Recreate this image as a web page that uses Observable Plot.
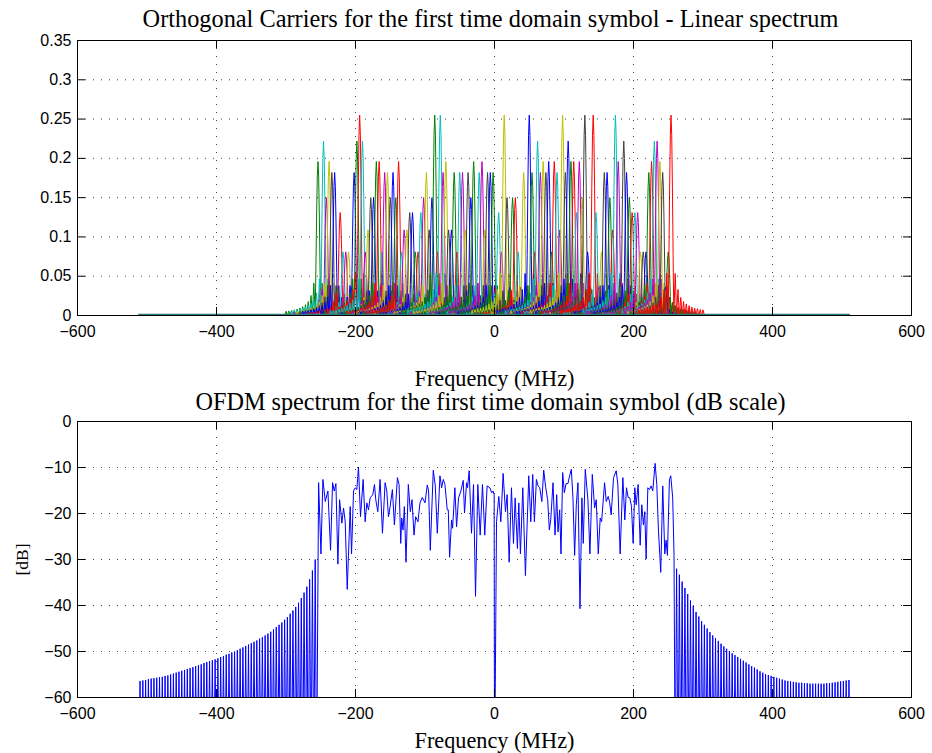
<!DOCTYPE html>
<html>
<head>
<meta charset="utf-8">
<script src="https://cdn.jsdelivr.net/npm/d3@7"></script>
<script src="https://cdn.jsdelivr.net/npm/@observablehq/plot@0.6"></script>
<style>
  html, body { margin: 0; padding: 0; background: #fff; }
  #wrap { position: relative; width: 932px; height: 753px; background: #fff; }
  #wrap svg { position: absolute; left: 0; top: 0; }
</style>
</head>
<body>
<div id="wrap"></div>
<script>
// ---------------- DATA ----------------
const topTitle = "Orthogonal Carriers for the first time domain symbol - Linear spectrum";
const bottomTitle = "OFDM spectrum for the first time domain symbol (dB scale)";
const xLabelText = "Frequency (MHz)";
const yLabelBottom = "[dB]";

const xTicks = [-600, -400, -200, 0, 200, 400, 600];
const topYTicks = [0, 0.05, 0.1, 0.15, 0.2, 0.25, 0.3, 0.35];
const bottomYTicks = [-60, -50, -40, -30, -20, -10, 0];

// MATLAB default line colour order
const colorOrder = ["#0000ff", "#008000", "#ff0000", "#00bfbf", "#bf00bf", "#bfbf00", "#404040"];
const colorOffset = 1; // first carrier drawn in green

// sub-carriers: 4 MHz spacing, centres -254 ... 254 MHz
const carrierSpacing = 4;
const carrierFreq = d3.range(-254, 255, carrierSpacing);
const carrierAmp = [
  0.196, 0.036, 0.222, 0.150, 0.196, 0.182, 0.182, 0.036, 0.131, 0.081,
  0.081, 0.081, 0.036, 0.182, 0.222, 0.255, 0.222, 0.081, 0.109, 0.150,
  0.150, 0.196, 0.196, 0.081, 0.182, 0.182, 0.150, 0.182, 0.150, 0.196,
  0.081, 0.109, 0.109, 0.131, 0.131, 0.081, 0.081, 0.131, 0.150, 0.182,
  0.109, 0.150, 0.255, 0.081, 0.255, 0.182, 0.196, 0.109, 0.109, 0.182,
  0.081, 0.182, 0.182, 0.109, 0.182, 0.150, 0.196, 0.036, 0.182, 0.196,
  0.109, 0.182, 0.182, 0.182, 0.036, 0.131, 0.081, 0.255, 0.150, 0.036,
  0.150, 0.150, 0.081, 0.036, 0.182, 0.036, 0.255, 0.182, 0.081, 0.222,
  0.182, 0.196, 0.182, 0.196, 0.081, 0.196, 0.182, 0.109, 0.255, 0.182,
  0.222, 0.196, 0.196, 0.131, 0.196, 0.150, 0.255, 0.081, 0.036, 0.255,
  0.131, 0.036, 0.081, 0.182, 0.182, 0.150, 0.109, 0.255, 0.196, 0.036,
  0.222, 0.182, 0.150, 0.131, 0.131, 0.131, 0.081, 0.081, 0.081, 0.182,
  0.196, 0.222, 0.222, 0.196, 0.182, 0.036, 0.081, 0.255
];

// relative magnitude of one carrier vs. offset (in carrier spacings), one side
const shapeOffset = [0, 0.25, 0.5, 0.75, 1, 1.5, 2, 2.5, 3, 3.5, 4, 4.5, 5, 5.5, 6, 6.5, 7, 7.5, 8, 8.5, 9, 9.5, 10, 10.5, 11, 11.5, 12];
const shapeGain   = [1, 0.90, 0.64, 0.30, 0, 0.21, 0, 0.13, 0, 0.09, 0, 0.07, 0, 0.058, 0, 0.049, 0, 0.042, 0, 0.037, 0, 0.034, 0, 0.030, 0, 0.028, 0];

const freqRange = [-512, 512];

// dB spectrum: in-band curve [MHz, dB]
const inbandCurve = [
  [-253.1,-13.3],[-249.7,-28.8],[-246.9,-12.6],[-243.5,-17.4],[-239.7,-15.1],[-235.9,-28.0],
  [-233.0,-13.3],[-230.6,-15.1],[-228.2,-13.5],[-225.3,-31.0],[-222.9,-17.0],[-219.6,-22.1],
  [-217.2,-18.8],[-214.8,-21.8],[-211.9,-36.5],[-207.6,-18.5],[-205.7,-28.8],[-202.8,-15.1],
  [-200.4,-14.4],[-198.1,-14.8],[-195.7,-9.9],[-192.8,-20.7],[-189.0,-12.6],[-186.1,-21.8],
  [-183.7,-17.7],[-181.3,-19.2],[-178.9,-16.6],[-175.1,-15.9],[-172.7,-13.7],[-170.8,-17.0],
  [-167.9,-19.6],[-164.6,-12.6],[-161.2,-24.3],[-157.4,-13.3],[-155.0,-15.1],[-152.6,-20.7],
  [-150.2,-18.5],[-146.9,-14.8],[-144.0,-22.5],[-139.7,-12.2],[-137.3,-13.7],[-134.9,-26.5],
  [-133.5,-21.0],[-131.6,-23.6],[-129.7,-18.5],[-127.3,-30.6],[-124.0,-13.7],[-121.1,-19.6],
  [-118.7,-17.0],[-115.8,-24.7],[-113.4,-20.7],[-110.1,-21.8],[-107.2,-17.7],[-103.9,-16.5],
  [-100.0,-17.7],[-96.7,-13.8],[-94.8,-15.1],[-92.4,-28.0],[-88.1,-10.6],[-85.2,-14.0],
  [-82.3,-24.3],[-78.5,-11.8],[-76.1,-14.4],[-73.7,-12.6],[-71.3,-13.7],[-68.0,-19.2],
  [-66.5,-19.2],[-64.6,-29.5],[-61.8,-21.4],[-60.3,-23.2],[-57.0,-14.4],[-54.6,-22.9],
  [-51.7,-16.6],[-48.4,-15.1],[-45.0,-12.8],[-43.1,-19.9],[-40.2,-13.3],[-38.8,-14.4],
  [-36.4,-10.7],[-33.1,-24.3],[-30.2,-13.7],[-27.3,-38.0],[-24.0,-13.7],[-20.6,-24.7],
  [-17.3,-13.7],[-14.0,-24.7],[-10.6,-14.0],[-6.7,-14.4],[-3.9,-15.5],[-2.0,-15.1],
  [-0.5,-15.9],[0.0,-80],[2.9,-21.8],[6.2,-16.3],[9.1,-21.8],[12.4,-11.3],[15.8,-19.6],
  [18.2,-15.9],[21.1,-30.6],[24.4,-14.4],[27.3,-26.5],[29.7,-16.6],[33.0,-27.6],[35.0,-17.7],
  [37.3,-28.8],[40.7,-14.4],[44.5,-33.5],[49.3,-11.8],[52.2,-21.8],[55.0,-11.5],[57.4,-21.8],
  [60.3,-12.6],[62.7,-14.0],[65.1,-14.4],[68.1,-17.4],[70.8,-10.6],[73.7,-14.4],[76.5,-17.0],
  [78.9,-23.6],[80.9,-21.4],[84.2,-13.3],[87.1,-24.7],[89.5,-15.9],[91.4,-24.0],[93.8,-19.2],
  [95.7,-28.8],[98.1,-11.1],[100.5,-15.5],[102.9,-13.5],[105.7,-13.5],[108.1,-11.8],[110.5,-10.4],
  [112.9,-16.6],[115.3,-29.1],[117.7,-18.1],[120.1,-13.3],[123.0,-40.7],[125.8,-16.6],[127.7,-26.5],
  [130.6,-10.4],[134.4,-17.0],[137.3,-28.8],[140.7,-11.5],[144.0,-18.8],[146.4,-17.0],[149.3,-28.8],
  [152.1,-21.0],[154.1,-21.8],[158.4,-13.3],[160.8,-17.4],[163.6,-16.3],[165.5,-17.4],[167.9,-20.3],
  [171.3,-12.2],[175.1,-10.7],[177.5,-13.7],[180.8,-28.8],[184.7,-12.2],[187.5,-21.4],[189.9,-14.4],
  [192.3,-16.5],[194.7,-16.6],[197.1,-18.5],[199.5,-26.5],[201.9,-14.4],[203.8,-18.1],[206.7,-13.7],
  [209.6,-26.9],[211.9,-18.1],[214.3,-22.5],[216.2,-19.6],[218.2,-29.9],[220.6,-14.4],[223.0,-14.8],
  [225.3,-14.0],[227.7,-15.1],[231.1,-9.1],[233.5,-13.7],[235.9,-23.6],[239.2,-32.8],[242.1,-14.0],
  [245.0,-28.8],[246.9,-25.8],[248.8,-29.1],[251.7,-12.6],[253.6,-11.8],[256.4,-16.6],[258.3,-29.1]
];

// out-of-band sidelobe peaks, one per 4 MHz
const leftLobeFreq = d3.range(-510, -257, 4);
const leftLobeDb = [
  -56.4,-56.3,-56.2,-56.0,-55.9,-55.8,-55.7,-55.6,-55.5,-55.3,-55.2,-55.0,-54.8,-54.6,-54.4,-54.2,
  -54.0,-53.8,-53.6,-53.4,-53.2,-53.0,-52.8,-52.5,-52.3,-52.1,-51.9,-51.7,-51.5,-51.2,-51.0,-50.7,
  -50.5,-50.2,-50.0,-49.7,-49.4,-49.1,-48.8,-48.5,-48.2,-47.9,-47.6,-47.2,-46.9,-46.5,-46.1,-45.7,
  -45.2,-44.7,-44.2,-43.7,-43.1,-42.5,-41.8,-41.1,-40.3,-39.4,-38.4,-37.2,-35.9,-34.3,-32.4,-30.0
];
const rightLobeFreq = d3.range(262, 511, 4);
const rightLobeDb = [
  -32.0,-33.3,-34.8,-36.2,-37.5,-38.9,-40.1,-41.4,-42.4,-43.4,-44.2,-45.0,-45.8,-46.5,-47.1,-47.7,
  -48.3,-48.9,-49.4,-49.9,-50.4,-50.8,-51.2,-51.6,-52.0,-52.4,-52.8,-53.2,-53.5,-53.9,-54.3,-54.6,
  -54.9,-55.1,-55.3,-55.5,-55.7,-55.9,-56.1,-56.3,-56.4,-56.5,-56.6,-56.7,-56.8,-56.8,-56.9,-56.9,
  -57.0,-57.0,-57.0,-57.0,-57.0,-57.0,-56.9,-56.9,-56.8,-56.7,-56.6,-56.5,-56.4,-56.3,-56.2
];
const nullDb = -80; // nulls between sidelobes fall far below the axis

// ---------------- BUILD TABLES ----------------
const carrierRows = [];
carrierFreq.forEach((fc, k) => {
  const color = colorOrder[(k + colorOffset) % colorOrder.length];
  for (let i = shapeOffset.length - 1; i >= 1; --i)
    carrierRows.push({k, color, f: fc - shapeOffset[i] * carrierSpacing, a: carrierAmp[k] * shapeGain[i]});
  for (let i = 0; i < shapeOffset.length; ++i)
    carrierRows.push({k, color, f: fc + shapeOffset[i] * carrierSpacing, a: carrierAmp[k] * shapeGain[i]});
});

const spectrumRows = [{f: freqRange[0], db: nullDb}];
leftLobeFreq.forEach((f, i) => {
  spectrumRows.push({f, db: leftLobeDb[i]});
  spectrumRows.push({f: f + carrierSpacing / 2, db: nullDb});
});
inbandCurve.forEach(([f, db]) => spectrumRows.push({f, db}));
rightLobeFreq.forEach((f, i) => {
  spectrumRows.push({f: f - carrierSpacing / 2, db: nullDb});
  spectrumRows.push({f, db: rightLobeDb[i]});
});
spectrumRows.push({f: freqRange[1], db: nullDb});

// ---------------- STYLE HELPERS ----------------
const serif = "'Liberation Serif', 'DejaVu Serif', serif";
const sans = "'Liberation Sans', Arial, sans-serif";
const ctx = document.createElement("canvas").getContext("2d");
function fitSize(text, family, target) {
  ctx.font = `100px ${family}`;
  return 100 * target / ctx.measureText(text).width;
}
const fmtX = d => d < 0 ? "\u2212" + Math.abs(d) : String(d);
const fmtTopY = d => String(+d.toFixed(2));
const fmtBotY = d => d < 0 ? "\u2212" + Math.abs(d) : String(d);

const W = 932, H = 753;
const mL = 77, mR = 21;
const frameW = W - mL - mR;
const tickLen = 8;
const gridStyle = {stroke: "#000", strokeOpacity: 0.75, strokeWidth: 1, strokeDasharray: "1,7"};
const txt = {fill: "#000", fontFamily: serif, textAnchor: "middle", lineAnchor: "middle"};

function axesMarks(yTicks, frameH, fmtY) {
  return [
    Plot.gridX({ticks: xTicks, ...gridStyle}),
    Plot.gridY({ticks: yTicks, ...gridStyle}),
    Plot.frame({stroke: "#000", strokeWidth: 1}),
    Plot.tickX(xTicks, {x: d => d, insetTop: frameH - tickLen, stroke: "#000"}),
    Plot.tickX(xTicks, {x: d => d, insetBottom: frameH - tickLen, stroke: "#000"}),
    Plot.tickY(yTicks, {y: d => d, insetRight: frameW - tickLen, stroke: "#000"}),
    Plot.tickY(yTicks, {y: d => d, insetLeft: frameW - tickLen, stroke: "#000"}),
    Plot.axisX({ticks: xTicks, tickSize: 0, tickPadding: 10, tickFormat: fmtX, label: null}),
    Plot.axisY({ticks: yTicks, tickSize: 0, tickPadding: 6, tickFormat: fmtY, label: null})
  ];
}

// ---------------- TOP CHART ----------------
const topMT = 40, topMB = H - 315;
const topPlot = Plot.plot({
  width: W, height: H,
  marginLeft: mL, marginRight: mR, marginTop: topMT, marginBottom: topMB,
  style: {fontFamily: sans, fontSize: "16px", background: "transparent", color: "#000"},
  x: {domain: [-600, 600]},
  y: {domain: [0, 0.35]},
  marks: [
    Plot.line(carrierRows, {x: "f", y: "a", z: "k", stroke: "color", strokeWidth: 1}),
    Plot.ruleY([0], {x1: freqRange[0], x2: freqRange[1], stroke: "#2f7a7a", strokeWidth: 1.5, dy: -1}),
    ...axesMarks(topYTicks, 315 - topMT, fmtTopY),
    Plot.text([topTitle], {...txt, frameAnchor: "top", dy: -21, dx: -4,
      fontSize: fitSize(topTitle, serif, 696)}),
    Plot.text([xLabelText], {...txt, frameAnchor: "bottom", dy: 63,
      fontSize: fitSize(xLabelText, serif, 160)})
  ]
});

// ---------------- BOTTOM CHART ----------------
const botMT = 421, botMB = H - 697;
const bottomPlot = Plot.plot({
  width: W, height: H,
  marginLeft: mL, marginRight: mR, marginTop: botMT, marginBottom: botMB,
  style: {fontFamily: sans, fontSize: "16px", background: "transparent", color: "#000"},
  x: {domain: [-600, 600]},
  y: {domain: [-60, 0]},
  marks: [
    Plot.line(spectrumRows, {x: "f", y: "db", stroke: "#0000ff", strokeWidth: 1, clip: true}),
    ...axesMarks(bottomYTicks, 697 - botMT, fmtBotY),
    Plot.text([bottomTitle], {...txt, frameAnchor: "top", dy: -19, dx: -4,
      fontSize: fitSize(bottomTitle, serif, 590)}),
    Plot.text([xLabelText], {...txt, frameAnchor: "bottom", dy: 43,
      fontSize: fitSize(xLabelText, serif, 160)}),
    Plot.text([yLabelBottom], {...txt, frameAnchor: "left", dx: -55, rotate: -90,
      fontSize: fitSize(yLabelBottom, serif, 32)})
  ]
});

const wrap = document.getElementById("wrap");
wrap.appendChild(topPlot);
wrap.appendChild(bottomPlot);
</script>
</body>
</html>
